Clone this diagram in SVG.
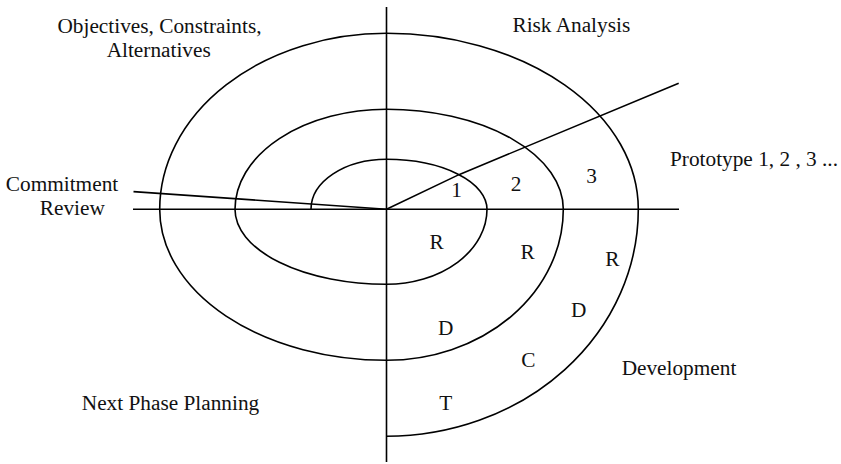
<svg xmlns="http://www.w3.org/2000/svg" width="841" height="464" viewBox="0 0 841 464">
<style>
.ln{fill:none;stroke:#000;stroke-width:1.6}
text{font-family:"Liberation Serif","Times New Roman",serif;font-size:21.3px;fill:#111;text-anchor:middle}
</style>
<rect width="841" height="464" fill="#fff"/>
<g id="connectors">
<line class="ln" x1="386.5" y1="7" x2="386.5" y2="462"/>
<line class="ln" x1="133" y1="209.3" x2="679" y2="209.3"/>
<polyline class="ln" points="133.5,191.6 386.5,209.3"/>
<polyline class="ln" points="386.5,209.3 459.5,174.4 678.7,83.3"/>
<path id="spiral" class="ln" d="M311,209.3 A75.5 50 0 0 1 386.5,159.3 A100.5 50 0 0 1 487,209.3 A100.5 75 0 0 1 386.5,284.3 A151.5 75 0 0 1 235,209.3 A151.5 100 0 0 1 386.5,109.3 A176.8 100 0 0 1 563.3,209.3 A176.8 151 0 0 1 386.5,360.3 A226.8 151 0 0 1 159.7,209.3 A226.8 176 0 0 1 386.5,33.3 A251.8 176 0 0 1 638.3,209.3 A251.8 227 0 0 1 386.5,436.3"/>
</g>
<g id="objectives"><text x="159.5" y="33">Objectives, Constraints,</text><text x="158.7" y="56.7">Alternatives</text></g>
<g id="risk"><text x="571.3" y="32.3">Risk Analysis</text></g>
<g id="commitment"><text x="62" y="190.7">Commitment</text><text x="72.3" y="215">Review</text></g>
<g id="prototype"><text x="754" y="165.7">Prototype 1, 2 , 3 ...</text></g>
<g id="planning"><text x="170.5" y="410">Next Phase Planning</text></g>
<g id="development"><text x="679" y="375">Development</text></g>
<g id="labels">
<text x="456.7" y="197">1</text>
<text x="516" y="190.7">2</text>
<text x="591.7" y="182.7">3</text>
<text x="436.7" y="248.7">R</text>
<text x="527.7" y="259">R</text>
<text x="612.3" y="266">R</text>
<text x="445.7" y="335">D</text>
<text x="578.7" y="316.7">D</text>
<text x="528.3" y="367.3">C</text>
<text x="445.7" y="410">T</text>
</g>
</svg>
